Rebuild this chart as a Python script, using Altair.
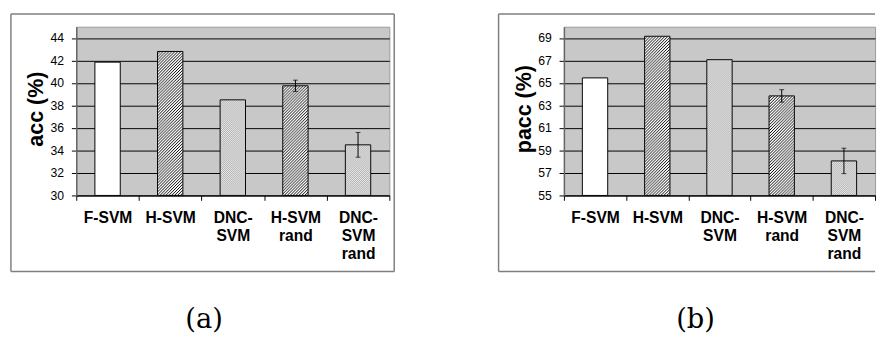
import base64
import altair as alt
import pandas as pd

# ---- data ----
methods = ["F-SVM", "H-SVM", "DNC-\nSVM", "H-SVM\nrand", "DNC-\nSVM\nrand"]
styles = ["plain", "hatch", "dots", "hatch", "dots"]

acc = [41.85, 42.8, 38.5, 39.75, 34.5]
acc_err = [0, 0, 0, 0.5, 1.1]
pacc = [65.45, 69.15, 67.07, 63.85, 58.07]
pacc_err = [0, 0, 0, 0.55, 1.13]

acc_ticks = [30, 32, 34, 36, 38, 40, 42, 44]
pacc_ticks = [55, 57, 59, 61, 63, 65, 67, 69]
acc_domain = [30, 45]
pacc_domain = [55, 70]

titles = ["acc (%)", "pacc (%)"]
tags = ["(a)", "(b)"]

# ---- styling ----
PLOT_H = 173
BAR_W = 26
FRAME_COLOR = "#7f7f7f"


def pattern_url(kind, w, h):
    if kind == "hatch":
        tile = (
            "<pattern id='p' width='3' height='3' patternUnits='userSpaceOnUse'>"
            "<rect width='3' height='3' fill='#ffffff'/>"
            "<path d='M-1,1 L1,-1 M0,3 L3,0 M2,4 L4,2' stroke='#000000' stroke-width='1.0'/>"
            "</pattern>"
        )
    else:
        tile = (
            "<pattern id='p' width='2' height='2' patternUnits='userSpaceOnUse'>"
            "<rect width='2' height='2' fill='#f2f2f2'/>"
            "<rect width='1' height='1' fill='#a8a8a8'/>"
            "<rect x='1' y='1' width='1' height='1' fill='#a8a8a8'/>"
            "</pattern>"
        )
    svg = (
        f"<svg xmlns='http://www.w3.org/2000/svg' width='{w:.3f}' height='{h:.3f}' "
        f"viewBox='0 0 {w:.3f} {h:.3f}' preserveAspectRatio='none'>"
        f"<defs>{tile}</defs><rect width='{w:.3f}' height='{h:.3f}' fill='url(#p)'/></svg>"
    )
    return "data:image/svg+xml;base64," + base64.b64encode(svg.encode()).decode()


def panel(values, errs, domain, ticks, title, tag, width, right_side, tag_x):
    df = pd.DataFrame({"method": methods, "value": values, "err": errs, "style": styles})
    df["lo"] = df["value"] - df["err"]
    df["hi"] = df["value"] + df["err"]
    df["base"] = domain[0]
    df["idx"] = range(len(df))

    yscale = alt.Scale(domain=domain, zero=False, nice=False)
    xenc = alt.X(
        "method:N",
        sort=methods,
        scale=alt.Scale(paddingInner=0, paddingOuter=0),
        axis=alt.Axis(
            title=None, labelAngle=0, tickBand="extent",
            labelExpr="split(datum.label, '\\n')", labelOverlap=False,
        ),
    )
    yaxis = alt.Axis(title=None, values=ticks, grid=True)
    yenc = alt.Y("value:Q", scale=yscale, axis=yaxis)

    base = alt.Chart(df)
    one = alt.Chart(pd.DataFrame({"k": [0]}))

    layers = []
    ft = -13
    fb = PLOT_H + 78
    fr = width + (5 if right_side else 0)
    layers.append(one.mark_rule(color=FRAME_COLOR, strokeWidth=1.5).encode(
        x=alt.value(-67), x2=alt.value(fr), y=alt.value(ft)))
    layers.append(one.mark_rule(color=FRAME_COLOR, strokeWidth=1.5).encode(
        x=alt.value(-67), x2=alt.value(fr), y=alt.value(fb)))
    layers.append(one.mark_rule(color=FRAME_COLOR, strokeWidth=1.5).encode(
        x=alt.value(-67), y=alt.value(ft), y2=alt.value(fb)))
    if right_side:
        layers.append(one.mark_rule(color=FRAME_COLOR, strokeWidth=1.5).encode(
            x=alt.value(fr), y=alt.value(ft), y2=alt.value(fb)))

    layers.append(base.mark_bar(size=BAR_W, fill="#ffffff", strokeWidth=0).encode(
        x=xenc, y=yenc, y2="base"))

    scale_px = PLOT_H / (domain[1] - domain[0])
    for i, (v, s) in enumerate(zip(values, styles)):
        if s == "plain":
            continue
        h = (v - domain[0]) * scale_px
        layers.append(base.transform_filter(f"datum.idx == {i}").mark_image(
            url=pattern_url(s, BAR_W, h), aspect=False, width=BAR_W).encode(
            x=xenc, y=yenc, y2="base"))

    layers.append(base.mark_bar(size=BAR_W, fillOpacity=0, stroke="#000000", strokeWidth=1).encode(
        x=xenc, y=yenc, y2="base"))

    eb = base.transform_filter("datum.err > 0")
    layers.append(eb.mark_rule(color="#000000", strokeWidth=1).encode(
        x=xenc, y=alt.Y("lo:Q", scale=yscale, axis=yaxis), y2="hi"))
    layers.append(eb.mark_tick(color="#000000", size=5, thickness=1).encode(
        x=xenc, y=alt.Y("lo:Q", scale=yscale, axis=yaxis)))
    layers.append(eb.mark_tick(color="#000000", size=5, thickness=1).encode(
        x=xenc, y=alt.Y("hi:Q", scale=yscale, axis=yaxis)))

    layers.append(one.mark_text(font="Liberation Sans", fontSize=22, fontWeight="bold",
                                angle=270, align="center", baseline="middle",
                                color="#000000").encode(
        x=alt.value(-41), y=alt.value(PLOT_H / 2 - 2), text=alt.value(title)))

    layers.append(one.mark_text(font="DejaVu Serif", fontSize=28, align="center",
                                baseline="middle", color="#000000").encode(
        x=alt.value(tag_x), y=alt.value(301), text=alt.value(tag)))

    return alt.layer(*layers).properties(width=width, height=PLOT_H)


pa = panel(acc, acc_err, acc_domain, acc_ticks, titles[0], tags[0], 321, True, 131)
pb = panel(pacc, pacc_err, pacc_domain, pacc_ticks, titles[1], tags[1], 319, False, 135)

chart = alt.hconcat(pa, pb, spacing=103).properties(
    padding={"left": 1, "top": 0, "right": 0, "bottom": 0}
).configure(font="Liberation Sans").configure_view(
    fill="#c8c8c8", stroke="#999999", strokeWidth=1
).configure_axisX(
    domainColor="#000000", domainWidth=1, tickColor="#000000", tickSize=5,
    labelFont="Liberation Sans", labelFontSize=16, labelFontWeight="bold", labelColor="#000000",
    labelPadding=10, labelBaseline="top", labelLineHeight=18.5, grid=False,
).configure_axisY(
    domainColor="#666666", domainWidth=1.5, tickColor="#000000", tickSize=5,
    labelFont="Liberation Sans", labelFontSize=12.5, labelColor="#000000", labelPadding=8,
    gridColor="#000000", gridWidth=1, gridOpacity=1,
)

chart.save("out.html", embed_options={"renderer": "svg", "actions": False})
